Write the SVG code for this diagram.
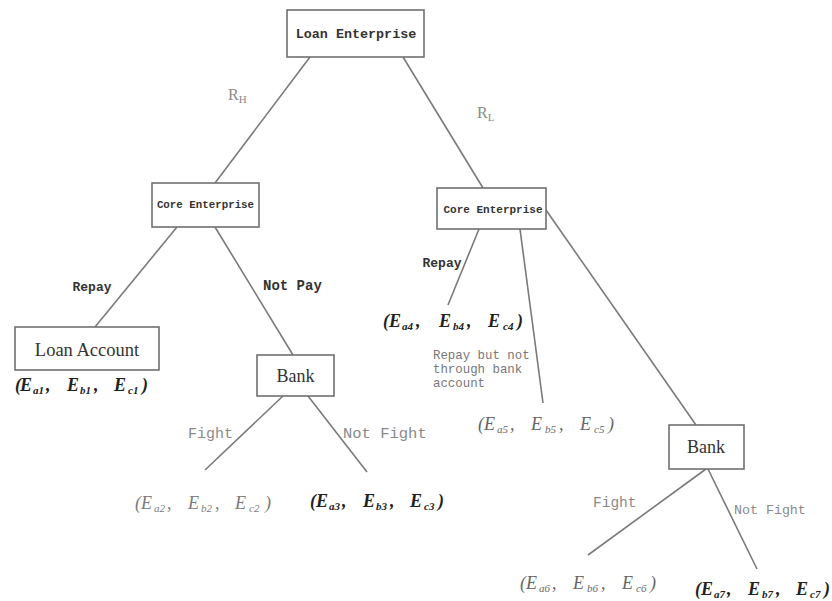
<svg xmlns="http://www.w3.org/2000/svg" width="832" height="601" viewBox="0 0 832 601">
<style>
.box{fill:#fff;stroke:#707070;stroke-width:1.6}
.edge{stroke:#7a7a7a;stroke-width:1.6;fill:none}
.mono{font-family:"Liberation Mono","DejaVu Sans Mono",monospace}
.nodeT{font-weight:bold;fill:#333}
.lbl{font-weight:bold;fill:#333}
.glbl{fill:#8a8a8a}
.serif{font-family:"Liberation Serif","Times New Roman",serif}
.pay{font-family:"Liberation Serif","Times New Roman",serif;font-style:italic;font-size:18px}
.payB{font-weight:bold;fill:#222}
.payN{fill:#666}
.sub{font-size:11px}
</style>
<rect width="832" height="601" fill="#fff"/>
<g id="connectors">
<line class="edge" x1="310" y1="57" x2="215" y2="183"/>
<line class="edge" x1="403" y1="57" x2="483" y2="188"/>
<line class="edge" x1="177" y1="227" x2="95" y2="327"/>
<line class="edge" x1="215" y1="227" x2="293" y2="355"/>
<line class="edge" x1="283" y1="396" x2="205" y2="470"/>
<line class="edge" x1="308" y1="396" x2="367" y2="472"/>
<line class="edge" x1="479" y1="229" x2="448" y2="305"/>
<line class="edge" x1="520" y1="229" x2="543" y2="403"/>
<line class="edge" x1="546" y1="210" x2="696" y2="425"/>
<line class="edge" x1="706" y1="469" x2="588" y2="555"/>
<line class="edge" x1="708" y1="469" x2="757" y2="569"/>
</g>
<g id="labels">
<text class="serif glbl" x="228" y="100" font-size="16">R<tspan class="sub" dy="3" font-size="10">H</tspan></text>
<text class="serif glbl" x="477" y="118" font-size="16">R<tspan class="sub" dy="3" font-size="10">L</tspan></text>
<text class="mono lbl" x="92" y="291" font-size="13" text-anchor="middle">Repay</text>
<text class="mono lbl" x="263" y="290" font-size="14">Not Pay</text>
<text class="mono lbl" x="442" y="267" font-size="13" text-anchor="middle">Repay</text>
<text class="mono glbl" x="188" y="438" font-size="15">Fight</text>
<text class="mono glbl" x="343" y="438" font-size="15.5">Not Fight</text>
<text class="mono glbl" x="593" y="507" font-size="14.5">Fight</text>
<text class="mono glbl" x="734" y="514" font-size="13.3">Not Fight</text>
<text class="mono" fill="#777" font-size="12.4"><tspan x="433" y="359">Repay but not</tspan><tspan x="433" y="373">through bank</tspan><tspan x="433" y="387">account</tspan></text>
</g>
<g id="loan-enterprise">
<rect class="box" x="287" y="10" width="137" height="47"/>
<text class="mono nodeT" x="356" y="38" font-size="13.4" text-anchor="middle">Loan Enterprise</text>
</g>
<g id="core-enterprise-left">
<rect class="box" x="152" y="183" width="107" height="44"/>
<text class="mono nodeT" x="205.5" y="208" font-size="10.8" text-anchor="middle">Core Enterprise</text>
</g>
<g id="core-enterprise-right">
<rect class="box" x="437" y="188" width="109" height="41"/>
<text class="mono nodeT" x="493" y="213" font-size="11" text-anchor="middle">Core Enterprise</text>
</g>
<g id="loan-account">
<rect class="box" x="15" y="327" width="144" height="43"/>
<text class="serif" x="87" y="356" font-size="18.5" fill="#333" text-anchor="middle">Loan Account</text>
</g>
<g id="bank-left">
<rect class="box" x="257" y="355" width="77" height="41"/>
<text class="serif" x="295.5" y="382" font-size="18" fill="#333" text-anchor="middle">Bank</text>
</g>
<g id="bank-right">
<rect class="box" x="669" y="425" width="75" height="44"/>
<text class="serif" x="706" y="453" font-size="18" fill="#333" text-anchor="middle">Bank</text>
</g>
<g id="payoff-1" class="pay payB">
<text y="391"><tspan x="15">(</tspan><tspan x="20">E</tspan><tspan x="33" y="394" class="sub">a1</tspan><tspan x="46" y="391">,</tspan><tspan x="67">E</tspan><tspan x="80" y="394" class="sub">b1</tspan><tspan x="94" y="391">,</tspan><tspan x="114">E</tspan><tspan x="128" y="394" class="sub">c1</tspan><tspan x="142" y="391">)</tspan></text>
</g>
<g id="payoff-2" class="pay" fill="#7a7a7a">
<text y="509"><tspan x="135">(</tspan><tspan x="141">E</tspan><tspan x="154" y="512" class="sub">a2</tspan><tspan x="167" y="509">,</tspan><tspan x="188">E</tspan><tspan x="201" y="512" class="sub">b2</tspan><tspan x="215" y="509">,</tspan><tspan x="235">E</tspan><tspan x="249" y="512" class="sub">c2</tspan><tspan x="265" y="509">)</tspan></text>
</g>
<g id="payoff-3" class="pay payB">
<text y="507"><tspan x="310">(</tspan><tspan x="316">E</tspan><tspan x="329" y="510" class="sub">a3</tspan><tspan x="342" y="507">,</tspan><tspan x="363">E</tspan><tspan x="376" y="510" class="sub">b3</tspan><tspan x="390" y="507">,</tspan><tspan x="410">E</tspan><tspan x="424" y="510" class="sub">c3</tspan><tspan x="438" y="507">)</tspan></text>
</g>
<g id="payoff-4" class="pay payB">
<text y="327"><tspan x="383">(</tspan><tspan x="389">E</tspan><tspan x="402" y="330" class="sub">a4</tspan><tspan x="416" y="327">,</tspan><tspan x="439">E</tspan><tspan x="453" y="330" class="sub">b4</tspan><tspan x="467" y="327">,</tspan><tspan x="488">E</tspan><tspan x="503" y="330" class="sub">c4</tspan><tspan x="517" y="327">)</tspan></text>
</g>
<g id="payoff-5" class="pay payN">
<text y="430"><tspan x="478">(</tspan><tspan x="484">E</tspan><tspan x="497" y="433" class="sub">a5</tspan><tspan x="510" y="430">,</tspan><tspan x="531">E</tspan><tspan x="545" y="433" class="sub">b5</tspan><tspan x="559" y="430">,</tspan><tspan x="580">E</tspan><tspan x="594" y="433" class="sub">c5</tspan><tspan x="608" y="430">)</tspan></text>
</g>
<g id="payoff-6" class="pay payN">
<text y="589"><tspan x="520">(</tspan><tspan x="526">E</tspan><tspan x="539" y="592" class="sub">a6</tspan><tspan x="552" y="589">,</tspan><tspan x="573">E</tspan><tspan x="587" y="592" class="sub">b6</tspan><tspan x="601" y="589">,</tspan><tspan x="622">E</tspan><tspan x="636" y="592" class="sub">c6</tspan><tspan x="650" y="589">)</tspan></text>
</g>
<g id="payoff-7" class="pay payB">
<text y="595"><tspan x="695">(</tspan><tspan x="701">E</tspan><tspan x="714" y="598" class="sub">a7</tspan><tspan x="727" y="595">,</tspan><tspan x="748">E</tspan><tspan x="762" y="598" class="sub">b7</tspan><tspan x="776" y="595">,</tspan><tspan x="796">E</tspan><tspan x="810" y="598" class="sub">c7</tspan><tspan x="824" y="595">)</tspan></text>
</g>
</svg>
